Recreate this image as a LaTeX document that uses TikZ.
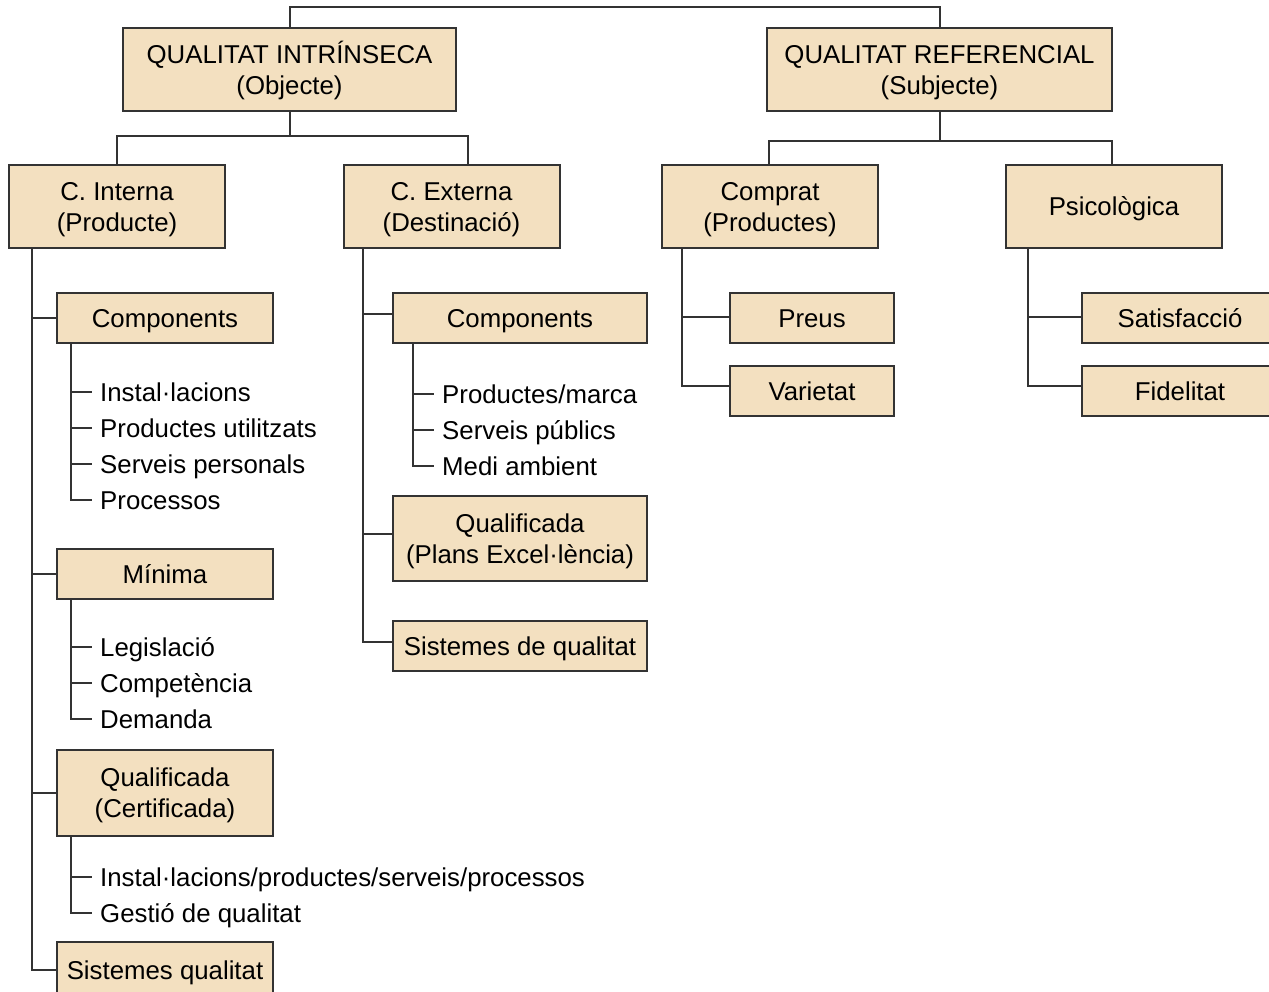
\documentclass[tikz,border=0pt]{standalone}
\usepackage{fontspec}
\setmainfont{Liberation Sans}
\definecolor{boxfill}{HTML}{F3E0C0}
\definecolor{edge}{HTML}{333333}
\begin{document}
\begin{tikzpicture}[x=1pt,y=-1pt,
  box/.style={draw=edge,fill=boxfill,line width=2pt,inner sep=0pt,align=center,
    font=\fontsize{25.8}{31}\selectfont,text height=18.5pt,text depth=0pt},
  box2/.style={box,text height=49.5pt,text depth=0pt},
  item/.style={anchor=west,inner sep=0pt,inner xsep=8pt,font=\fontsize{25.8}{31}\selectfont,
    text height=18.5pt,text depth=0pt},
  conn/.style={draw=edge,line width=2pt}]
\useasboundingbox (0,0) rectangle (1269,991);
\clip (0,0) rectangle (1269,991);
\fill[white] (0,0) rectangle (1269,991);
% level 1
\node[box2,minimum width=333,minimum height=83] (qi) at (289.5,69.5) {QUALITAT INTRÍNSECA\\(Objecte)};
\node[box2,minimum width=345,minimum height=83] (qr) at (939.5,69.5) {QUALITAT REFERENCIAL\\(Subjecte)};
% level 2
\node[box2,minimum width=216,minimum height=83] (ci) at (117,206.5) {C. Interna\\(Producte)};
\node[box2,minimum width=216,minimum height=83] (ce) at (451.5,206.5) {C. Externa\\(Destinació)};
\node[box2,minimum width=216,minimum height=83] (cp) at (770,206.5) {Comprat\\(Productes)};
\node[box,minimum width=216,minimum height=83] (ps) at (1114,206.5) {Psicològica};
% C. Interna children
\node[box,minimum width=216,minimum height=50] (c1) at (165,318) {Components};
\node[box,minimum width=216,minimum height=50] (m1) at (165,574) {Mínima};
\node[box2,minimum width=216,minimum height=86] (q1) at (165,793) {Qualificada\\(Certificada)};
\node[box,minimum width=216,minimum height=56] (s1) at (165,970) {Sistemes qualitat};
% C. Externa children
\node[box,minimum width=254,minimum height=50] (c2) at (520,318) {Components};
\node[box2,minimum width=254,minimum height=85] (q2) at (520,538.5) {Qualificada\\(Plans Excel·lència)};
\node[box,minimum width=254,minimum height=50] (s2) at (520,646) {Sistemes de qualitat};
% Comprat children
\node[box,minimum width=164,minimum height=50] (pr) at (812,318) {Preus};
\node[box,minimum width=164,minimum height=50] (va) at (812,391) {Varietat};
% Psicologica children
\node[box,minimum width=196,minimum height=50] (sa) at (1180,318) {Satisfacció};
\node[box,minimum width=196,minimum height=50] (fi) at (1180,391) {Fidelitat};
% items
\node[item] (i1) at (92,392) {Instal·lacions};
\node[item] (i2) at (92,428) {Productes utilitzats};
\node[item] (i3) at (92,464) {Serveis personals};
\node[item] (i4) at (92,500) {Processos};
\node[item] (l1) at (92,647) {Legislació};
\node[item] (l2) at (92,683) {Competència};
\node[item] (l3) at (92,719) {Demanda};
\node[item] (k1) at (92,877) {Instal·lacions/productes/serveis/processos};
\node[item] (k2) at (92,913) {Gestió de qualitat};
\node[item] (e1) at (434,394) {Productes/marca};
\node[item] (e2) at (434,430) {Serveis públics};
\node[item] (e3) at (434,466) {Medi ambient};
% connectors top
\draw[conn] (qi.north) -- ++(0,-20) -| (qr.north);
\draw[conn] (qi.south) -- ++(0,24) -| (ci.north);
\draw[conn] (qi.south) -- ++(0,24) -| ([xshift=16.5pt]ce.north);
\draw[conn] (qr.south) -- ++(0,29) -| ([xshift=-1pt]cp.north);
\draw[conn] (qr.south) -- ++(0,29) -| ([xshift=-2pt]ps.north);
% C. Interna tree
\foreach \n in {c1,m1,q1,s1}{\draw[conn] ([xshift=24pt]ci.south west) |- (\n.west);}
\foreach \n in {i1,i2,i3,i4}{\draw[conn] ([xshift=15pt]c1.south west) |- (\n.west);}
\foreach \n in {l1,l2,l3}{\draw[conn] ([xshift=15pt]m1.south west) |- (\n.west);}
\foreach \n in {k1,k2}{\draw[conn] ([xshift=15pt]q1.south west) |- (\n.west);}
% C. Externa tree
\draw[conn] ([xshift=20pt]ce.south west) |- ([yshift=4pt]c2.west);
\draw[conn] ([xshift=20pt]ce.south west) |- ([yshift=4.5pt]q2.west);
\draw[conn] ([xshift=20pt]ce.south west) |- ([yshift=4pt]s2.west);
\foreach \n in {e1,e2,e3}{\draw[conn] ([xshift=21pt]c2.south west) |- (\n.west);}
% Comprat tree
\draw[conn] ([xshift=21pt]cp.south west) |- ([yshift=1pt]pr.west);
\draw[conn] ([xshift=21pt]cp.south west) |- ([yshift=5pt]va.west);
% Psicologica tree
\draw[conn] ([xshift=23pt]ps.south west) |- ([yshift=1pt]sa.west);
\draw[conn] ([xshift=23pt]ps.south west) |- ([yshift=5pt]fi.west);
\end{tikzpicture}
\end{document}
